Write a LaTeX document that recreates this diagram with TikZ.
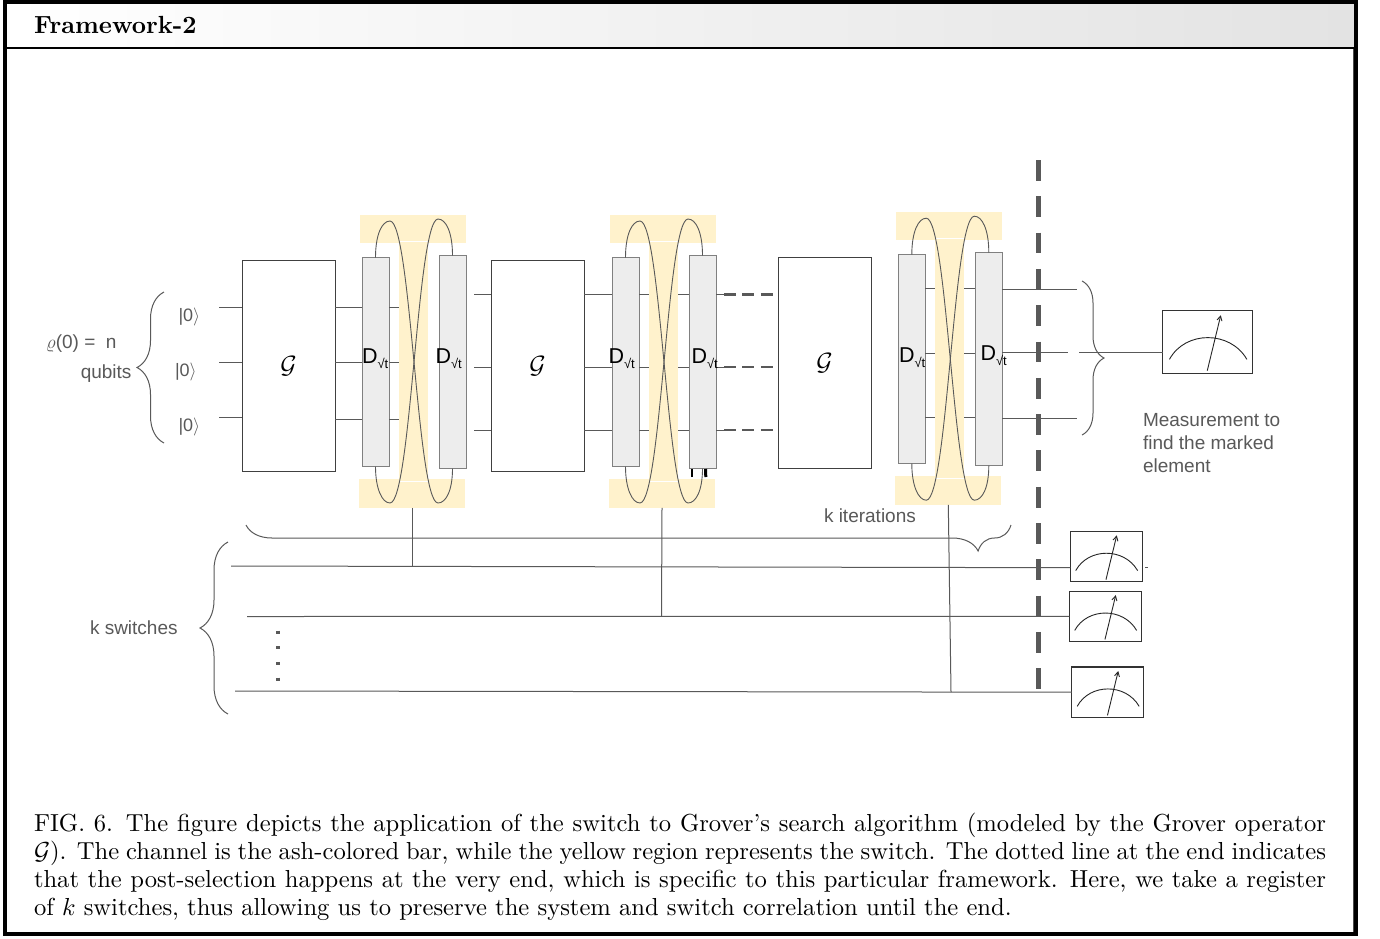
\documentclass[tikz,border=0pt]{standalone}
\usepackage{fix-cm}
\usepackage{amsmath}
\usepackage{fontspec}
\usepackage{tikz}
\usetikzlibrary{calc}
\usetikzlibrary{arrows.meta}
\usetikzlibrary{decorations.pathreplacing}
\newfontfamily\labelfont{Liberation Sans}
\definecolor{inkgray}{HTML}{595959}
\definecolor{switchyellow}{HTML}{FFF2CC}
\definecolor{channelgray}{HTML}{EDEDED}

\begin{document}
\begin{tikzpicture}[x=1pt,y=-1pt,
      every node/.style={inner sep=0pt,outer sep=0pt},
      wire/.style={draw=inkgray,line width=1pt},
      thickdash/.style={draw=inkgray,line width=2.6pt,dash pattern=on 11.7pt off 6.7pt},
      gbox/.style={draw=black!75,line width=1pt,fill=white,minimum width=93pt,minimum height=211pt,font=\fontsize{25}{25}\selectfont},
      dbox/.style={draw=black!50,line width=1pt,fill=channelgray,minimum width=27pt},
      swbar/.style={fill=switchyellow,minimum width=106pt,minimum height=28.5pt},
      swmid/.style={fill=switchyellow,minimum width=29pt,minimum height=240pt},
      dlabel/.style={anchor=base west,font=\labelfont\fontsize{21.5}{21.5}\selectfont,text=black},
      graytext/.style={font=\labelfont\fontsize{19}{23}\selectfont,text=inkgray},
      ketlabel/.style={anchor=base west,font=\labelfont\fontsize{18}{18}\selectfont,text=inkgray},
      bracket/.style={draw=inkgray,line width=1pt,decorate},
      meterbox/.style={draw=black!80,line width=1.1pt,fill=white}]
	\useasboundingbox (0,0) rectangle (1380,938);
	\fill[white] (0,0) rectangle (1380,938);
	\shade[left color=white,right color=black!11] (7,3) rectangle (1354,47);
	\draw[black!70,line width=1pt] (1353,49) -- (1353,932);
	\draw[black,line width=4pt] (5,1.5) rectangle (1356,934);
	\draw[black,line width=2pt] (7,48) -- (1354,48);
	\node[anchor=base west,scale=2.48,font=\fontsize{10}{11}\selectfont\bfseries] (title) at (34,33.5) {Framework-2};

	\foreach \n/\dx/\dy in {1/0/0,2/250/0,3/536.3/-2.8} {
		\begin{scope}[shift={(\dx,\dy)}]
			\node[swbar] (st\n) at (413,229) {};
			\node[swbar] (sb\n) at (412,493.5) {};
			\node[swmid] (sm\n) at (413.5,361) {};
			\node[dbox,minimum height=209pt] (da\n) at (375.5,362) {};
			\node[dbox,minimum height=213pt] (db\n) at (452.5,362) {};
			\draw[white,line width=.8pt] (sm\n.north west) -- (sm\n.north east);
			\draw[white,line width=.8pt] (sm\n.south west) -- (sm\n.south east);
			\draw[inkgray,line width=.9pt] (da\n.north) .. controls +(0,-23) and +(-8,0) .. (390,221) .. controls +(11,0) and +(-6,-62) .. (414,362) .. controls +(6,62) and +(-11,0) .. (438,503) .. controls +(8,0) and +(0,22) .. (db\n.south);
			\draw[inkgray,line width=.9pt] (db\n.north) .. controls +(0,-23) and +(8,0) .. (438,219) .. controls +(-11,0) and +(6,-62) .. (414,362) .. controls +(-6,62) and +(11,0) .. (390,503) .. controls +(-8,0) and +(0,22) .. (da\n.south);
		\end{scope}
	}
	\draw[black,line width=2.3pt] (692.3,477) -- (692.3,469);
	\draw[black,line width=3pt] (705.5,469) -- (705.8,477);

	\node[gbox] (g1) at (288.5,366) {$\mathcal{G}$};
	\node[gbox] (g2) at (537.5,366) {$\mathcal{G}$};
	\node[gbox] (g3) at (824.5,363) {$\mathcal{G}$};

	\foreach \i/\ya/\yb/\yc/\yin in {1/307.7/294.5/288.7/307,2/362.5/367/353.5/362,3/419/430/417.5/417.5} {
		\coordinate (ra\i) at (0,\ya);
		\coordinate (rb\i) at (0,\yb);
		\coordinate (rc\i) at (0,\yc);
		\coordinate (in\i) at (219,\yin);
		\coordinate (out\i) at (474,\yb);
		\coordinate (dash\i) at (724,\yb);
		\draw[wire] (in\i) -- (g1.west |- in\i);
		\draw[wire] (g1.east |- ra\i) -- (da1.west |- ra\i);
		\draw[wire] (da1.east |- ra\i) -- (sm1.west |- ra\i);
		\draw[wire] (out\i) -- (g2.west |- rb\i);
		\draw[wire] (g2.east |- rb\i) -- (da2.west |- rb\i);
		\draw[wire] (da2.east |- rb\i) -- (sm2.west |- rb\i);
		\draw[wire] (sm2.east |- rb\i) -- (db2.west |- rb\i);
		\draw[wire] (db2.east |- rb\i) -- (dash\i);
		\draw[thickdash,shorten >=5pt] (dash\i) -- (g3.west |- dash\i);
		\draw[wire] (da3.east |- rc\i) -- (sm3.west |- rc\i);
		\draw[wire] (sm3.east |- rc\i) -- (db3.west |- rc\i);
	}

	\node[dlabel] (la1) at (362,363.3) {D{\fontsize{13}{13}\selectfont\raisebox{-5.5pt}{√t}}};
	\node[dlabel] (lb1) at (435.5,363.3) {D{\fontsize{13}{13}\selectfont\raisebox{-5.5pt}{√t}}};
	\node[dlabel] (la2) at (608.5,363.3) {D{\fontsize{13}{13}\selectfont\raisebox{-5.5pt}{√t}}};
	\node[dlabel] (lb2) at (691.5,363.3) {D{\fontsize{13}{13}\selectfont\raisebox{-5.5pt}{√t}}};
	\node[dlabel] (la3) at (899,362) {D{\fontsize{13}{13}\selectfont\raisebox{-5.5pt}{√t}}};
	\node[dlabel] (lb3) at (980.5,360) {D{\fontsize{13}{13}\selectfont\raisebox{-5.5pt}{√t}}};

	\node[anchor=base east,graytext] (rho) at (116.5,348.5) {$\varrho$(0) =~~n};
	\node[anchor=base east,graytext] (qubits) at (131.5,378) {qubits};
	\node[ketlabel] (k1) at (178.5,321.7) {|0$\rangle$};
	\node[ketlabel] (k2) at (175,376.5) {|0$\rangle$};
	\node[ketlabel] (k3) at (178.5,431.5) {|0$\rangle$};
	\coordinate (lbtop) at (164,292);
	\coordinate (lbbot) at (164,443);
	\draw[bracket,decoration={brace,amplitude=27pt}] (lbbot) -- (lbtop);

	\node[meterbox,minimum width=90pt,minimum height=63pt] (m0) at (1207.7,341.7) {};
	\node[meterbox,minimum width=72pt,minimum height=50.5pt] (m1) at (1106.3,556.5) {};
	\node[meterbox,minimum width=72pt,minimum height=50.5pt] (m2) at (1105.3,616.3) {};
	\node[meterbox,minimum width=72pt,minimum height=50.5pt] (m3) at (1107.8,692.2) {};
	\foreach \mname/\mw/\mh in {m0/45/31.5,m1/36/25.2,m2/36/25.2,m3/36/25.2} {
		\begin{scope}[shift={(\mname.center)},x=\mw pt,y=\mh pt]
			\draw[black!85,line width=.9pt] (-.85,-.56) .. controls (-.5,.36) and (.5,.36) .. (.87,-.56);
			\draw[black!85,line width=.9pt,-{Straight Barb[length=4.5pt,width=5pt]}] (-.01,-.92) -- (.29,.84);
		\end{scope}
	}

	\coordinate (q1) at (1077,289);
	\coordinate (q2) at (1068,352);
	\coordinate (q3) at (1077,418);
	\coordinate (q4) at (1079,352);
	\draw[wire] (db3.east |- q1) -- (q1);
	\draw[wire] (db3.east |- q2) -- (q2);
	\draw[wire] (db3.east |- q3) -- (q3);
	\draw[wire] (q4) -- (m0.west |- q4);
	\coordinate (rbtop) at (1082,281);
	\coordinate (rbbot) at (1082,435);
	\draw[bracket,decoration={brace,amplitude=22pt}] (rbtop) -- (rbbot);
	\node[anchor=west,graytext,align=left] (measure) at (1143,443) {Measurement to\\find the marked\\element};

	\coordinate (itl) at (246,525);
	\coordinate (itr) at (1011,525);
	\draw[bracket,decoration={brace,amplitude=26pt,aspect=.043}] (itr) -- (itl);
	\node[anchor=base west,graytext] (iter) at (824,522) {k iterations};

	\coordinate (w1) at (231,566);
	\coordinate (w2) at (247,616.5);
	\coordinate (w3) at (235,691);
	\coordinate (j1) at (412,567.3);
	\coordinate (j2) at (661.5,616.5);
	\coordinate (j3) at (951,692);
	\coordinate (m1r) at (1145,567.7);
	\coordinate (m1s) at (1148,567.7);
	\draw[wire] (w1) -- ([yshift=-11.2pt]m1.west);
	\draw[wire] (m1r) -- (m1s);
	\draw[wire] (w2) -- (m2.west);
	\draw[wire] (w3) -- (m3.west);
	\draw[wire] (sb1.south) -- (j1);
	\draw[wire] (sb2.south) -- (j2);
	\draw[wire] (sb3.south) -- (j3);
	\coordinate (kbtop) at (228,542);
	\coordinate (kbbot) at (228,714);
	\draw[bracket,decoration={brace,amplitude=28pt}] (kbbot) -- (kbtop);
	\node[anchor=base west,graytext] (kswitch) at (90,634.5) {k switches};
	\coordinate (dotsa) at (278,630.5);
	\coordinate (dotsb) at (278,682);
	\draw[inkgray,line width=3.2pt,dash pattern=on 3.2pt off 12.5pt] (dotsa) -- (dotsb);

	\coordinate (cuttop) at (1038.5,160);
	\coordinate (cutbot) at (1038.5,690);
	\draw[inkgray,line width=4.8pt,dash pattern=on 20.8pt off 15.5pt] (cuttop) -- (cutbot);

	\node[anchor=north west,scale=2.46,text width=525.2pt,align=justify,font=\fontsize{10}{11.38}\selectfont] (caption) at (34,813) {FIG.~6. The figure depicts the application of the switch to Grover's search algorithm (modeled by the Grover operator\linebreak $\mathcal{G}$). The channel is the ash-colored bar, while the yellow region represents the switch. The dotted line at the end indicates\linebreak that the post-selection happens at the very end, which is specific to this particular framework. Here, we take a register\linebreak of $k$ switches, thus allowing us to preserve the system and switch correlation until the end.};
\end{tikzpicture}
\end{document}
